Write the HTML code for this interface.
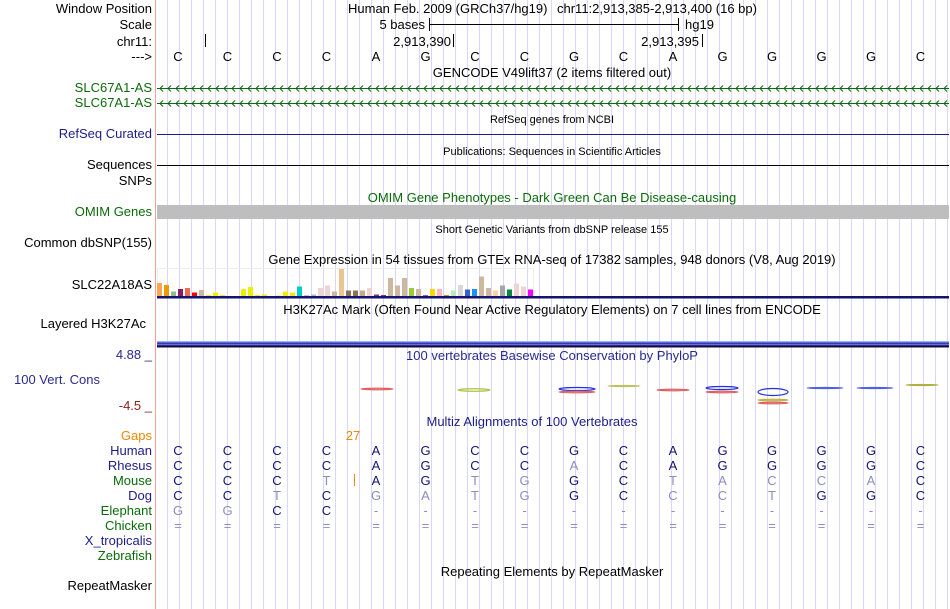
<!DOCTYPE html>
<html><head><meta charset="utf-8"><style>
html,body{margin:0;padding:0;background:#fff;}
svg{display:block;font-family:"Liberation Sans",sans-serif;}
</style></head><body>
<svg id="s" width="950" height="609" viewBox="0 0 950 609">
<g id="grid"></g>
<line x1="155.5" y1="0" x2="155.5" y2="609" stroke="#f4a0a0"/>
<g font-size="13" text-anchor="end" fill="#000">
<text x="152" y="13">Window Position</text>
<text x="152" y="29">Scale</text>
<text x="152" y="46">chr11:</text>
<text x="152" y="61">---&gt;</text>
<text x="152" y="92" fill="#0a6b0a">SLC67A1-AS</text>
<text x="152" y="107" fill="#0a6b0a">SLC67A1-AS</text>
<text x="152" y="138" fill="#1c1c8a">RefSeq Curated</text>
<text x="152" y="169">Sequences</text>
<text x="152" y="185">SNPs</text>
<text x="152" y="216" fill="#0a6b0a">OMIM Genes</text>
<text x="152" y="247">Common dbSNP(155)</text>
<text x="152" y="289">SLC22A18AS</text>
<text x="146" y="328">Layered H3K27Ac</text>
<text x="152" y="359" fill="#2a2a90">4.88 _</text>
<text x="100" y="384" fill="#2a2a90">100 Vert. Cons</text>
<text x="152" y="410" fill="#8b2020">-4.5 _</text>
<text x="152" y="440" fill="#ee8800">Gaps</text>
<text x="152" y="455" fill="#1c1c8a">Human</text>
<text x="152" y="470" fill="#1c1c8a">Rhesus</text>
<text x="152" y="485" fill="#0a6b0a">Mouse</text>
<text x="152" y="500" fill="#1c1c8a">Dog</text>
<text x="152" y="515" fill="#0a6b0a">Elephant</text>
<text x="152" y="530" fill="#0a6b0a">Chicken</text>
<text x="152" y="545" fill="#1c1c8a">X_tropicalis</text>
<text x="152" y="560" fill="#0a6b0a">Zebrafish</text>
<text x="152" y="590">RepeatMasker</text>
</g>
<g font-size="13" fill="#000">
<text x="348" y="13">Human Feb. 2009 (GRCh37/hg19)</text>
<text x="557" y="13">chr11:2,913,385-2,913,400 (16 bp)</text>
<text x="425" y="29" text-anchor="end">5 bases</text>
<line x1="429" y1="24.5" x2="678" y2="24.5" stroke="#000"/>
<line x1="429.5" y1="18" x2="429.5" y2="31" stroke="#000"/>
<line x1="678.5" y1="18" x2="678.5" y2="31" stroke="#000"/>
<text x="685" y="29">hg19</text>
<line x1="205.5" y1="34" x2="205.5" y2="47" stroke="#000"/>
<text x="451" y="46" text-anchor="end">2,913,390</text>
<line x1="453.5" y1="34" x2="453.5" y2="47" stroke="#000"/>
<text x="699" y="46" text-anchor="end">2,913,395</text>
<line x1="702.5" y1="34" x2="702.5" y2="47" stroke="#000"/>
</g>
<g id="bases" font-size="13" text-anchor="middle"></g>
<g font-size="13" text-anchor="middle">
<text x="552" y="77">GENCODE V49lift37 (2 items filtered out)</text>
<text x="552" y="123" font-size="11">RefSeq genes from NCBI</text>
<text x="552" y="155" font-size="11">Publications: Sequences in Scientific Articles</text>
<text x="552" y="202" fill="#0a6b0a">OMIM Gene Phenotypes - Dark Green Can Be Disease-causing</text>
<text x="552" y="233" font-size="11">Short Genetic Variants from dbSNP release 155</text>
<text x="552" y="264">Gene Expression in 54 tissues from GTEx RNA-seq of 17382 samples, 948 donors (V8, Aug 2019)</text>
<text x="552" y="314">H3K27Ac Mark (Often Found Near Active Regulatory Elements) on 7 cell lines from ENCODE</text>
<text x="552" y="360" fill="#2a2a90">100 vertebrates Basewise Conservation by PhyloP</text>
<text x="532" y="426" fill="#1c1c8a">Multiz Alignments of 100 Vertebrates</text>
<text x="552" y="576">Repeating Elements by RepeatMasker</text>
</g>
<g id="genes"></g>
<line x1="157" y1="134.5" x2="949" y2="134.5" stroke="#1c1c8a"/>
<line x1="157" y1="165.5" x2="949" y2="165.5" stroke="#000"/>
<rect x="157" y="205" width="792" height="14" fill="#bebebe"/>
<rect x="157.5" y="268.5" width="376" height="28" fill="none" stroke="#eee"/>
<g id="gtex"></g>
<rect x="157" y="296" width="792" height="2.5" fill="#141470"/>
<g>
<rect x="157" y="341" width="792" height="1" fill="#9ab0f0"/>
<rect x="157" y="342" width="792" height="1" fill="#5a6ae0"/>
<rect x="157" y="343" width="792" height="1" fill="#3a3ab0"/>
<rect x="157" y="344" width="792" height="1" fill="#6a70d8"/>
<rect x="157" y="345" width="792" height="1" fill="#2a2a80"/>
<rect x="157" y="346" width="792" height="1.5" fill="#1a0a40"/>
</g>
<g id="logos"></g>
<text x="353" y="440" font-size="13" text-anchor="middle" fill="#ee8800">27</text>
<line x1="354.5" y1="474" x2="354.5" y2="486" stroke="#ee8800"/>
<g id="aln" font-size="13" text-anchor="middle"></g>
</svg>
<script>
const NS='http://www.w3.org/2000/svg';
const bases=['C','C','C','C','A','G','C','C','G','C','A','G','G','G','G','C'];
const human=bases;
const rhesus=['C','C','C','C','A','G','C','C','A','C','A','G','G','G','G','C'];
const mouse=['C','C','C','T','A','G','T','G','G','C','T','A','C','C','A','C'];
const dog=['C','C','T','C','G','A','T','G','G','C','C','C','T','G','G','C'];
const elephant=['G','G','C','C','-','-','-','-','-','-','-','-','-','-','-','-'];
const chicken=['=','=','=','=','=','=','=','=','=','=','=','=','=','=','=','='];
const gtexValues=[13,11,4.5,7,8,3.5,6,1,3.5,1,0,0,7,9,1,1.5,0,0.5,4.5,3.5,9.5,0.7,1.5,8,10.5,4.5,27,5.5,5.5,5.5,8,1.5,1,18,10.5,18,8,7,1,7,7,1,5.5,11,6.5,7,19.5,8,5.5,10.5,6.5,12.5,9.5,6.5];
const gtexColors=['#FFA54F','#EE9A00','#8FBC8F','#8B1C62','#EE6A50','#FF0000','#CDB79E','#EEEE00','#EEEE00','#EEEE00','#EEEE00','#EEEE00','#EEEE00','#EEEE00','#EEEE00','#EEEE00','#EEEE00','#EEEE00','#EEEE00','#EEEE00','#00CDCD','#EE82EE','#9AC0CD','#EED5D2','#EED5D2','#CDB79E','#EEC591','#8B7355','#8B7355','#CDAA7D','#EED5D2','#7A378B','#7A378B','#CDB79E','#CDB79E','#CDB79E','#9ACD32','#CDB79E','#7A67EE','#FFD700','#FFB6C1','#CD9B1D','#B4EEB4','#D9D9D9','#3A5FCD','#1E90FF','#CDB79E','#CDB79E','#FFD39B','#A6A6A6','#008B45','#EED5D2','#EED5D2','#FF00FF'];
const gtexMax=28;
function mk(tag,attrs,parent){const e=document.createElementNS(NS,tag);for(const k in attrs)e.setAttribute(k,attrs[k]);parent.appendChild(e);return e;}
const baseX=i=>178+49.5*i;
const gtexX=i=>157+7*i;
const gtexH=v=>v/gtexMax*28;
const grid=document.getElementById('grid');
for(let x=167;x<=949;x+=12){const l=mk('line',{x1:x+0.5,y1:0,x2:x+0.5,y2:609,stroke:'#d8d8f6'},grid);

}
const bg=document.getElementById('bases');
bases.forEach((b,i)=>{const t=mk('text',{x:baseX(i),y:61},bg);t.textContent=b;

});
const genes=document.getElementById('genes');
[88,103].forEach((y,k)=>{const g=mk('g',{},genes);


mk('line',{x1:157,y1:y+0.5,x2:949,y2:y+0.5,stroke:'#0a6b0a'},g);
let d='';for(let x=160;x<946;x+=8){d+=`M${x+3},${y-2.5}L${x},${y+0.5}L${x+3},${y+3.5}`;}
mk('path',{d:d,stroke:'#0a6b0a',fill:'none','stroke-width':1},g);});
const gt=document.getElementById('gtex');
gtexValues.forEach((v,i)=>{const h=gtexH(v);const r=mk('rect',{x:gtexX(i),y:296-h,width:5,height:h,fill:gtexColors[i]},gt);

});
const lg=document.getElementById('logos');
const logos=[[377,389,32,1.5,'#e06060'],[474,390,32,2.5,'#b0c040'],[577,389,36,3,'#2030e0'],[577,392,36,1.5,'#e06060'],[624,386,32,1,'#c0c060'],[673,390,32,1.5,'#e06060'],[722,388,32,3,'#2030e0'],[722,392,32,1.5,'#e06060'],[773,392,30,7,'#2030e0'],[773,400,30,1.5,'#c0b040'],[773,403,30,1.5,'#e06060'],[825,388,36,1,'#5060e0'],[875,388,36,1,'#5060e0'],[922,385,32,1,'#b0b040']];
logos.forEach(a=>{const e=mk('ellipse',{cx:a[0],cy:a[1],rx:a[2]/2,ry:a[3]/2,fill:'none',stroke:a[4],'stroke-width':1.2},lg);

});
const al=document.getElementById('aln');
const rows=[[human,455],[rhesus,470],[mouse,485],[dog,500],[elephant,515],[chicken,530]];
rows.forEach(([arr,y],r)=>{arr.forEach((b,i)=>{const match=(r===0)||b===human[i];
const t=mk('text',{x:baseX(i),y:y,fill:match?'#141470':'#8c8cc0'},al);t.textContent=b;

});});
</script>
</body></html>
